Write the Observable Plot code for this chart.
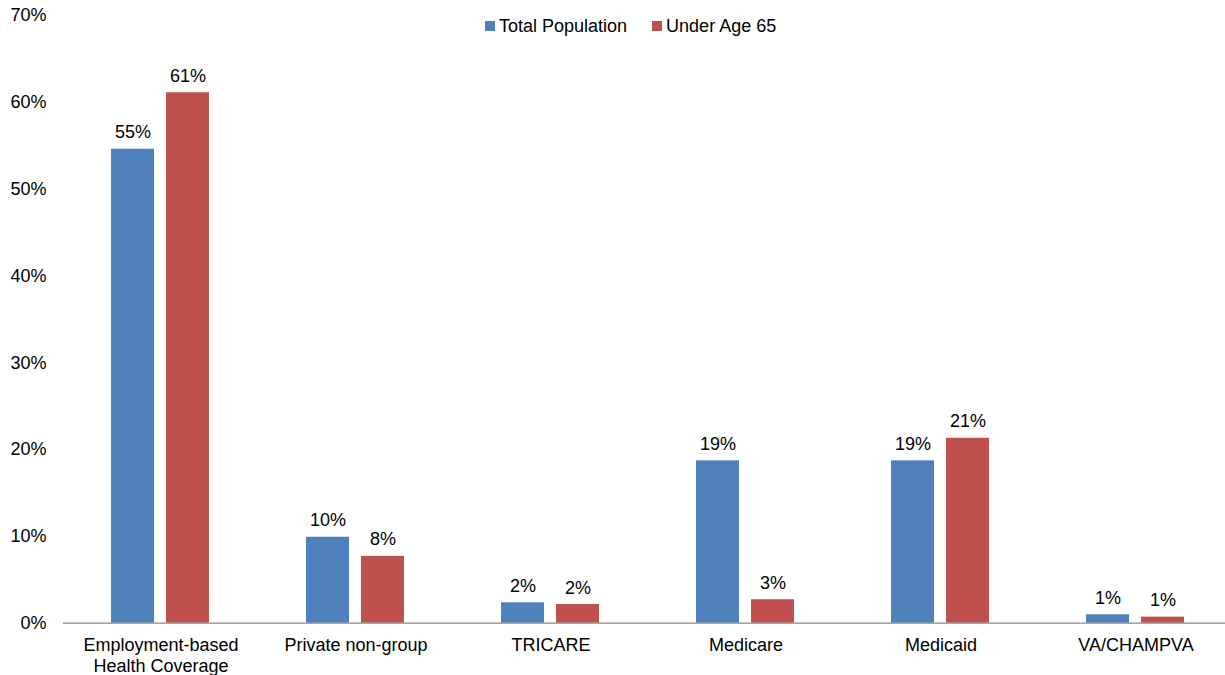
<!DOCTYPE html>
<html><head><meta charset="utf-8">
<script src="https://cdn.jsdelivr.net/npm/d3@7"></script>
<script src="https://cdn.jsdelivr.net/npm/@observablehq/plot@0.6"></script>
<style>
html,body{margin:0;background:#fff;font-family:"Liberation Sans",Arial,sans-serif;overflow:hidden;}
#wrap{position:relative;width:1225px;height:675px;overflow:hidden;}
#chart svg{max-width:none !important;}
#legend{position:absolute;top:16px;left:485px;display:flex;align-items:center;font-size:18px;color:#000;line-height:20px;white-space:nowrap;}
.item{display:flex;align-items:center;margin-right:25px;}
.sw{width:10px;height:10px;display:inline-block;margin-right:4px;}
</style></head><body>
<div id="wrap"><div id="chart"></div><div id="legend"></div></div>
<script>
const categories = ["Employment-based\nHealth Coverage","Private non-group","TRICARE","Medicare","Medicaid","VA/CHAMPVA"];
const series = ["Total Population","Under Age 65"];
const totalPopulation = [0.546,0.099,0.0235,0.187,0.187,0.0097];
const underAge65 = [0.611,0.077,0.0215,0.027,0.213,0.007];
const colors = ["#4F81BD","#C0504D"];
const yTicks = [0,0.1,0.2,0.3,0.4,0.5,0.6,0.7];

const data = [];
categories.forEach((c,i)=>{
  data.push({category:c, series:series[0], value:totalPopulation[i]});
  data.push({category:c, series:series[1], value:underAge65[i]});
});
const fmt = d3.format(".0%");

const chart = Plot.plot({
  width:1234, height:675,
  marginLeft:62, marginRight:0, marginTop:15, marginBottom:52.3,
  style:{fontFamily:'"Liberation Sans", Arial, sans-serif', fontSize:"18px", color:"#000", background:"#fff", maxWidth:"none"},
  fx:{domain:categories, padding:0, axis:null},
  x:{domain:series, paddingInner:0.216, paddingOuter:0.867, axis:null},
  y:{domain:[0,0.7], ticks:yTicks, tickFormat:fmt, tickSize:0, tickPadding:17, label:null},
  color:{domain:series, range:colors},
  marks:[
    Plot.barY(data,{fx:"category", x:"series", y:"value", fill:"series"}),
    Plot.text(data,{fx:"category", x:"series", y:"value", text:d=>fmt(d.value), lineAnchor:"bottom", dy:-11, fontSize:18, fill:"#000"}),
    Plot.ruleY([0],{stroke:"#888", strokeWidth:1.2}),
    Plot.text(categories,{fx:d=>d, text:d=>d, frameAnchor:"bottom", lineAnchor:"top", dy:13, lineHeight:1.17, fontSize:18, fill:"#000"})
  ]
});
chart.style.maxWidth = "none";
document.getElementById("chart").appendChild(chart);

const legend = document.getElementById("legend");
series.forEach((s,i)=>{
  const it = document.createElement("div"); it.className="item";
  const sw = document.createElement("span"); sw.className="sw"; sw.style.background=colors[i];
  const t = document.createElement("span"); t.textContent=s;
  it.appendChild(sw); it.appendChild(t); legend.appendChild(it);
});
</script>
</body></html>
